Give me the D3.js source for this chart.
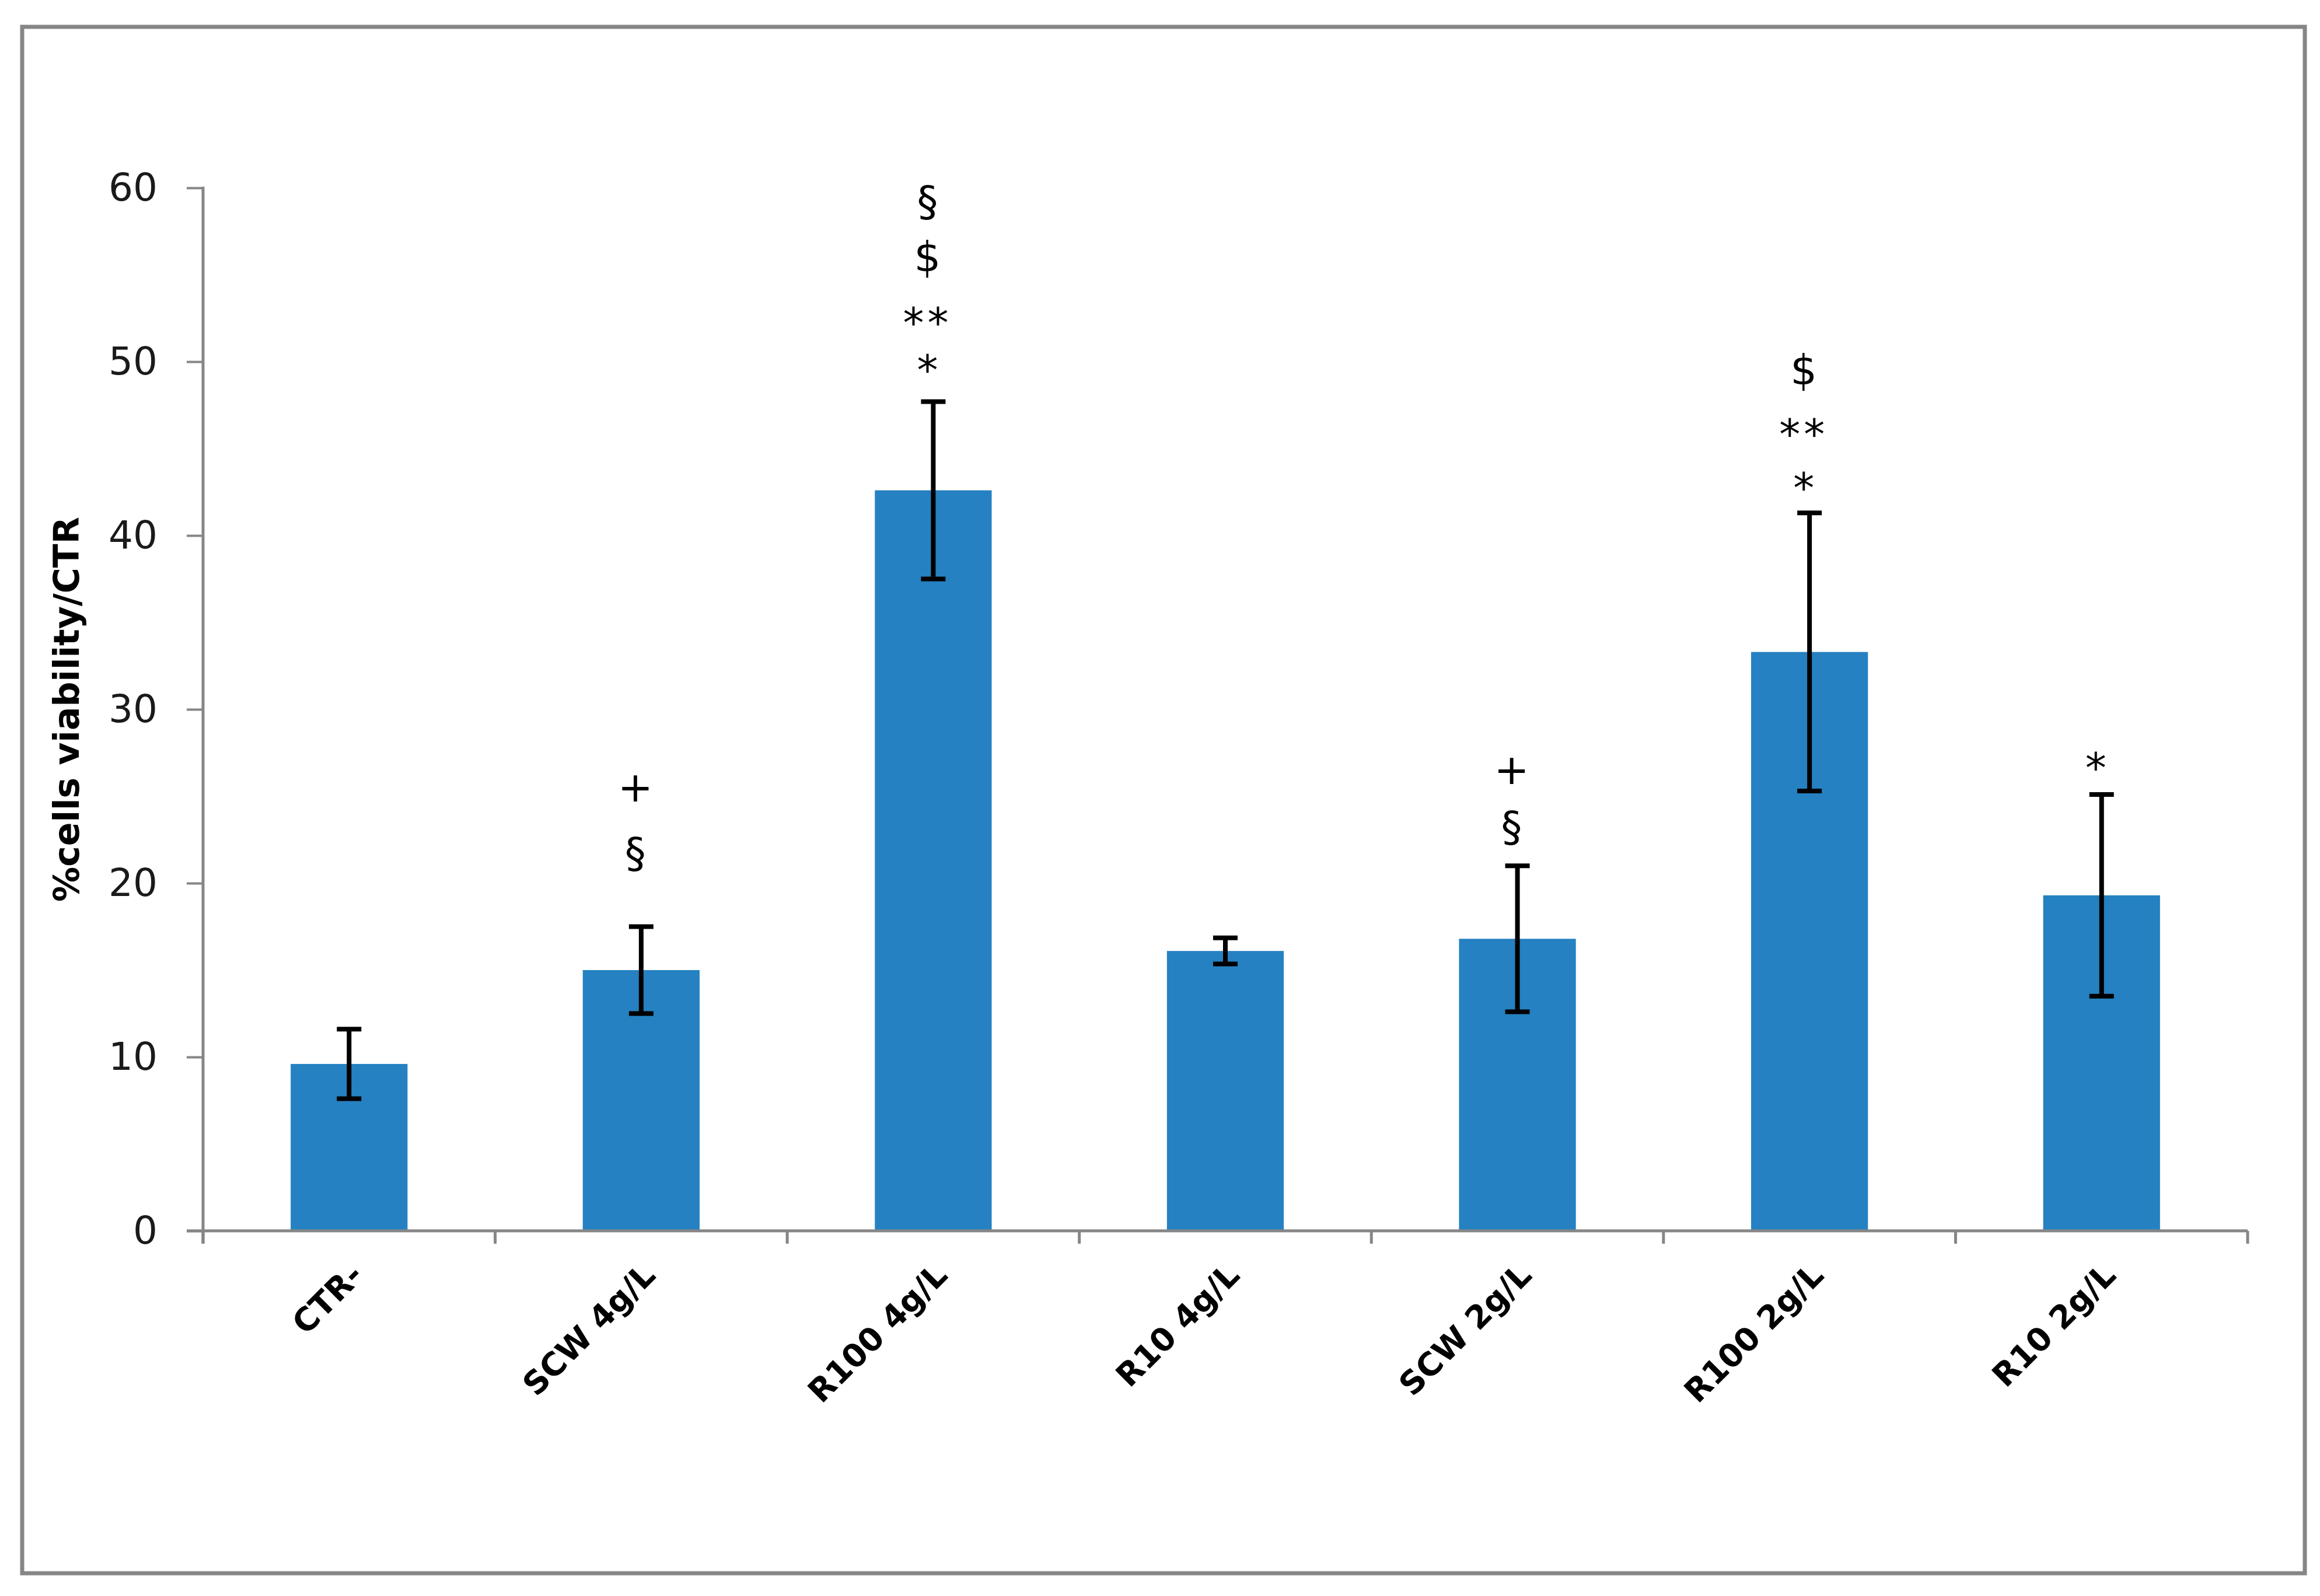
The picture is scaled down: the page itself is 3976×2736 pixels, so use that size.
<!DOCTYPE html>
<html>
<head>
<meta charset="utf-8">
<script src="https://cdn.jsdelivr.net/npm/d3@7"></script>
<style>
  html, body { margin: 0; padding: 0; background: #ffffff; }
  svg { display: block; }
</style>
</head>
<body>
<script>
// ---- Data ----
const categories = ["CTR-", "SCW 4g/L", "R100 4g/L", "R10 4g/L", "SCW 2g/L", "R100 2g/L", "R10 2g/L"];
const values = [9.6, 15.0, 42.6, 16.1, 16.8, 33.3, 19.3];
const errors = [2.0, 2.5, 5.1, 0.75, 4.2, 8.0, 5.8];
const yTicks = [0, 10, 20, 30, 40, 50, 60];
const yTitle = "%cells viability/CTR";

// significance marks: category, symbol, level (data units, glyph centre)
const annotCats = ["SCW 4g/L", "SCW 4g/L",
                   "R100 4g/L", "R100 4g/L", "R100 4g/L", "R100 4g/L",
                   "SCW 2g/L", "SCW 2g/L",
                   "R100 2g/L", "R100 2g/L", "R100 2g/L",
                   "R10 2g/L"];
const annotSymbols = ["+", "§",
                      "§", "$", "**", "*",
                      "+", "§",
                      "$", "**", "*",
                      "*"];
const annotLevels = [25.5, 21.7,
                     59.2, 56.0, 52.8, 50.1,
                     26.5, 23.2,
                     49.5, 46.4, 43.3,
                     27.2];

// ---- Layout ----
const W = 3976, H = 2736;
const plot = { left: 348, right: 3852, top: 322, bottom: 2110 };
const axisColor = "#868686";
const barColor = "#2581c1";
const font = "'DejaVu Sans', Verdana, sans-serif";

const svg = d3.select("body").append("svg")
  .attr("width", W).attr("height", H)
  .attr("viewBox", `0 0 ${W} ${H}`);

svg.append("rect").attr("width", W).attr("height", H).attr("fill", "#fff");

// outer frame
svg.append("rect")
  .attr("x", 38).attr("y", 46)
  .attr("width", 3950 - 38).attr("height", 2697 - 46)
  .attr("fill", "none").attr("stroke", axisColor).attr("stroke-width", 7);

const x = d3.scaleBand()
  .domain(categories)
  .range([plot.left, plot.right])
  .paddingInner(0.6)
  .paddingOuter(0.3);

const xEdges = d3.scaleBand()
  .domain(categories)
  .range([plot.left, plot.right])
  .padding(0);

const y = d3.scaleLinear().domain([0, 60]).range([plot.bottom, plot.top]);

// bars
svg.append("g").selectAll("rect")
  .data(categories)
  .join("rect")
  .attr("x", d => x(d))
  .attr("width", x.bandwidth())
  .attr("y", (d, i) => y(values[i]))
  .attr("height", (d, i) => y(0) - y(values[i]))
  .attr("fill", barColor);

// y axis
const yAxis = d3.axisLeft(y).tickValues(yTicks).tickSize(28).tickPadding(50).tickFormat(d3.format("d"));
const gy = svg.append("g").attr("transform", `translate(${plot.left},0)`).call(yAxis);
gy.select(".domain").remove();
gy.selectAll(".tick line").attr("stroke", axisColor).attr("stroke-width", 4);
gy.selectAll(".tick text")
  .attr("font-family", font).attr("font-size", 66).attr("fill", "#1a1a1a");
svg.append("line")
  .attr("x1", plot.left).attr("x2", plot.left)
  .attr("y1", plot.top - 2).attr("y2", plot.bottom + 22)
  .attr("stroke", axisColor).attr("stroke-width", 5);

// x axis line + boundary ticks
svg.append("line")
  .attr("x1", plot.left - 28).attr("x2", plot.right)
  .attr("y1", plot.bottom).attr("y2", plot.bottom)
  .attr("stroke", axisColor).attr("stroke-width", 5);
const edges = categories.map(c => xEdges(c)).concat([xEdges(categories[categories.length - 1]) + xEdges.bandwidth()]);
svg.append("g").selectAll("line")
  .data(edges)
  .join("line")
  .attr("x1", d => d).attr("x2", d => d)
  .attr("y1", plot.bottom).attr("y2", plot.bottom + 22)
  .attr("stroke", axisColor).attr("stroke-width", 5);

// category labels
svg.append("g").selectAll("text")
  .data(categories)
  .join("text")
  .attr("transform", d => `translate(${x(d) + x.bandwidth() / 2},${plot.bottom + 52}) rotate(-45)`)
  .attr("text-anchor", "end")
  .attr("dy", "0.7em")
  .attr("font-family", font).attr("font-size", 55).attr("font-weight", "bold")
  .attr("fill", "#000")
  .text(d => d);

// error bars
const capHalf = 21;
const eg = svg.append("g").attr("stroke", "#000").attr("stroke-width", 8).attr("fill", "none");
categories.forEach((c, i) => {
  const cx = x(c) + x.bandwidth() / 2;
  const yt = y(values[i] + errors[i]);
  const yb = y(values[i] - errors[i]);
  eg.append("line").attr("x1", cx).attr("x2", cx).attr("y1", yt).attr("y2", yb);
  eg.append("line").attr("x1", cx - capHalf).attr("x2", cx + capHalf).attr("y1", yt).attr("y2", yt);
  eg.append("line").attr("x1", cx - capHalf).attr("x2", cx + capHalf).attr("y1", yb).attr("y2", yb);
});

// significance annotations
svg.append("g").selectAll("text")
  .data(annotSymbols)
  .join("text")
  .attr("x", (d, i) => x(annotCats[i]) + x.bandwidth() / 2 - 10)
  .attr("y", (d, i) => y(annotLevels[i]))
  .attr("dy", d => d.includes("*") ? "0.58em" : "0.33em")
  .attr("text-anchor", "middle")
  .attr("font-family", font).attr("font-size", 72)
  .attr("letter-spacing", d => d === "**" ? 6 : 0)
  .attr("fill", "#000")
  .text(d => d);

// y title
svg.append("text")
  .attr("transform", `translate(114,${(plot.top + plot.bottom) / 2}) rotate(-90)`)
  .attr("text-anchor", "middle")
  .attr("dy", "0.35em")
  .attr("font-family", font).attr("font-size", 60).attr("font-weight", "bold")
  .attr("fill", "#000")
  .text(yTitle);
</script>
</body>
</html>
